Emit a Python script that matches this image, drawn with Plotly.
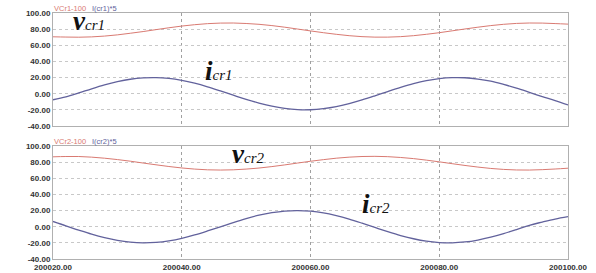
import plotly.graph_objects as go

# time axis (simulation time units)
t = [200020 + 2 * k for k in range(41)]

vcr1 = [70.5, 70.2, 70.0, 70.4, 71.4, 72.9, 74.9, 77.0, 79.4, 81.7, 83.8, 85.5, 86.8, 87.5,
        87.6, 87.0, 86.0, 84.4, 82.4, 80.1, 77.8, 75.6, 73.6, 71.9, 70.7, 70.1, 70.1, 70.7,
        71.9, 73.6, 75.6, 77.9, 80.2, 82.4, 84.4, 86.0, 87.1, 87.6, 87.5, 86.9, 86.2]
icr1 = [-7.5, -4.0, 0.9, 6.1, 10.9, 14.9, 17.9, 19.6, 20.0, 18.9, 16.5, 13.0, 8.6, 3.5,
        -1.8, -7.0, -11.6, -15.5, -18.3, -19.8, -19.9, -18.6, -16.1, -12.3, -7.7, -2.6, 2.7,
        7.8, 12.4, 16.1, 18.6, 19.9, 19.8, 18.2, 15.5, 11.5, 6.9, 1.7, -3.6, -8.6, -14.0]
vcr2 = [86.6, 87.0, 87.0, 86.2, 84.9, 83.2, 81.2, 78.9, 76.7, 74.6, 72.8, 71.4, 70.5, 70.2,
        70.5, 71.4, 72.7, 74.5, 76.6, 78.9, 81.1, 83.1, 84.9, 86.2, 87.0, 87.2, 86.8, 85.8,
        84.4, 82.5, 80.4, 78.1, 75.9, 73.9, 72.2, 71.0, 70.3, 70.2, 70.7, 71.5, 72.5]
icr2 = [6.5, 1.0, -4.3, -9.3, -13.6, -17.0, -19.2, -20.0, -19.4, -17.5, -14.4, -10.2, -5.3, -0.1,
        5.2, 10.1, 14.3, 17.4, 19.4, 20.0, 19.2, 17.1, 13.7, 9.4, 4.4, -0.9, -6.1, -10.9,
        -14.9, -17.9, -19.6, -20.0, -18.9, -16.5, -13.0, -8.6, -3.5, 1.8, 5.8, 9.5, 12.5]

x_ticks = [200020, 200040, 200060, 200080, 200100]
x_ticklabels = ["200020.00", "200040.00", "200060.00", "200080.00", "200100.00"]
y_ticks = [-40, -20, 0, 20, 40, 60, 80, 100]
y_ticklabels = ["-40.00", "-20.00", "0.00", "20.00", "40.00", "60.00", "80.00", "100.00"]

RED = "#d97a72"
BLUE = "#62629c"

fig = go.Figure()
fig.add_trace(go.Scatter(x=t, y=vcr1, mode="lines", line=dict(color=RED, width=1.0, shape="spline"),
                         xaxis="x", yaxis="y", name="VCr1-100"))
fig.add_trace(go.Scatter(x=t, y=icr1, mode="lines", line=dict(color=BLUE, width=1.3, shape="spline"),
                         xaxis="x", yaxis="y", name="I(cr1)*5"))
fig.add_trace(go.Scatter(x=t, y=vcr2, mode="lines", line=dict(color=RED, width=1.0, shape="spline"),
                         xaxis="x2", yaxis="y2", name="VCr2-100"))
fig.add_trace(go.Scatter(x=t, y=icr2, mode="lines", line=dict(color=BLUE, width=1.3, shape="spline"),
                         xaxis="x2", yaxis="y2", name="I(cr2)*5"))

tickfont = dict(family="Liberation Sans", size=8, color="#333333", weight="bold")

xcommon = dict(range=[200020, 200100], tickvals=x_ticks, ticktext=x_ticklabels,
               showgrid=True, gridcolor="#a0a0a0", griddash="dot", gridwidth=1,
               showline=True, linecolor="#b0b0b0", linewidth=1, mirror=True,
               zeroline=False, ticks="", tickfont=tickfont, fixedrange=True, automargin=False)
ycommon = dict(range=[-40, 100], tickvals=y_ticks, ticktext=y_ticklabels,
               showgrid=True, gridcolor="#c8c8c8", griddash="dot", gridwidth=1,
               showline=True, linecolor="#b0b0b0", linewidth=1, mirror=True,
               zeroline=False, ticks="", tickfont=tickfont, fixedrange=True, automargin=False)

fig.update_layout(
    width=596, height=273,
    margin=dict(l=53, r=28, t=13, b=14, autoexpand=False),
    paper_bgcolor="white", plot_bgcolor="white",
    showlegend=False,
    xaxis=dict(xcommon, anchor="y", showticklabels=False),
    yaxis=dict(ycommon, domain=[0.5407, 1.0], anchor="x"),
    xaxis2=dict(xcommon, anchor="y2"),
    yaxis2=dict(ycommon, domain=[0.0, 0.4593], anchor="x2"),
)

labfont = dict(family="Liberation Sans", size=7.5)
anns = [
    dict(x=0.0, y=1.0, text="VCr1-100", font=dict(labfont, color=RED), xanchor="left", yanchor="bottom"),
    dict(x=0.074, y=1.0, text="I(cr1)*5", font=dict(labfont, color=BLUE), xanchor="left", yanchor="bottom"),
    dict(x=0.0, y=0.4593, text="VCr2-100", font=dict(labfont, color=RED), xanchor="left", yanchor="bottom"),
    dict(x=0.074, y=0.4593, text="I(cr2)*5", font=dict(labfont, color=BLUE), xanchor="left", yanchor="bottom"),
]
for a in anns:
    a.update(xref="paper", yref="paper", showarrow=False, yshift=-1, borderpad=0)
    fig.add_annotation(**a)

symfont = dict(family="Liberation Serif", size=27, color="#111111")


def sym(main, sub):
    return ("<b><i>%s</i></b><span style='font-size:15px'><i>%s</i></span>" % (main, sub))


fig.add_annotation(x=200023.0, y=90.7, xref="x", yref="y", text=sym("v", "cr1"),
                   showarrow=False, xanchor="left", yanchor="middle", font=symfont, borderpad=0)
fig.add_annotation(x=200043.4, y=28.6, xref="x", yref="y", text=sym("i", "cr1"),
                   showarrow=False, xanchor="left", yanchor="middle", font=symfont, borderpad=0)
fig.add_annotation(x=200047.7, y=90.7, xref="x2", yref="y2", text=sym("v", "cr2"),
                   showarrow=False, xanchor="left", yanchor="middle", font=symfont, borderpad=0)
fig.add_annotation(x=200067.8, y=28.7, xref="x2", yref="y2", text=sym("i", "cr2"),
                   showarrow=False, xanchor="left", yanchor="middle", font=symfont, borderpad=0)

fig.write_html("out.html", config={"displayModeBar": False},
               post_script="document.body.style.margin='0';document.body.style.padding='0';")
